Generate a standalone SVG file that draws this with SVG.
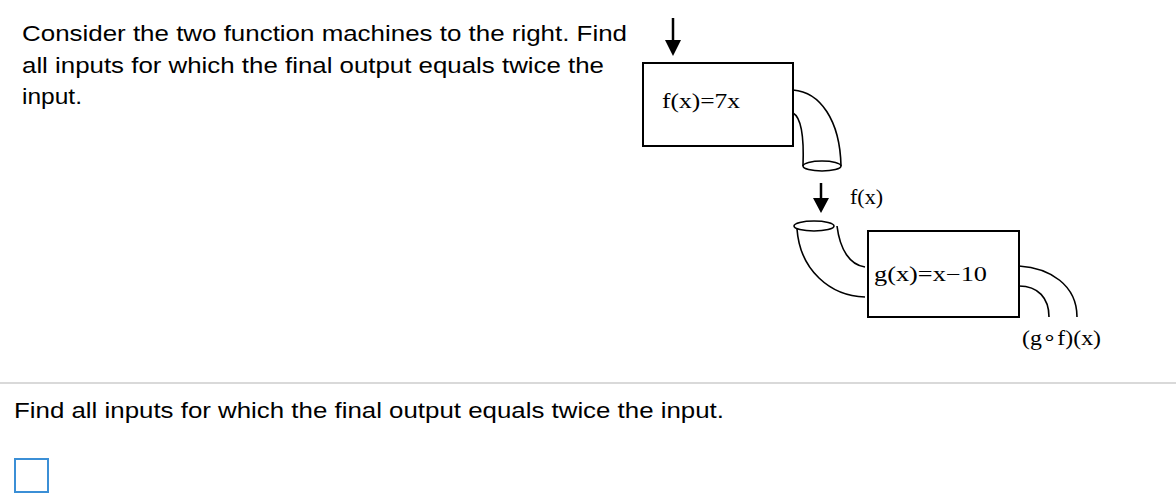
<svg xmlns="http://www.w3.org/2000/svg" width="1176" height="502" viewBox="0 0 1176 502">
<style>
.s{font-family:"Liberation Sans",Arial,sans-serif;font-size:22px;fill:#000}
.m{font-family:"Liberation Serif","Times New Roman",serif;font-size:20px;fill:#000}
.l{fill:none;stroke:#000;stroke-width:2}
.p{fill:none;stroke:#000;stroke-width:1.6}
</style>
<rect width="1176" height="502" fill="#fff"/>
<text class="s" x="22" y="41" textLength="605" lengthAdjust="spacingAndGlyphs">Consider the two function machines to the right. Find</text>
<text class="s" x="22" y="73" textLength="582" lengthAdjust="spacingAndGlyphs">all inputs for which the final output equals twice the</text>
<text class="s" x="22" y="104" textLength="60" lengthAdjust="spacingAndGlyphs">input.</text>
<g id="machine-f"><rect x="643" y="63" width="150" height="83" class="l"/><text class="m" x="662" y="108" textLength="78" lengthAdjust="spacingAndGlyphs">f(x)=7x</text></g>
<g id="machine-g"><rect x="868" y="231" width="151" height="86" class="l"/><text class="m" x="874" y="281" textLength="113" lengthAdjust="spacingAndGlyphs">g(x)=x−10</text></g>
<g id="label-fx"><text class="m" x="850" y="204" textLength="33" lengthAdjust="spacingAndGlyphs">f(x)</text></g>
<g id="label-gof"><text class="m" x="1022" y="345" textLength="79" lengthAdjust="spacingAndGlyphs">(g∘f)(x)</text></g>
<g id="connectors">
<line x1="673" y1="18" x2="673" y2="44" stroke="#000" stroke-width="2.5"/>
<polygon points="665,40 681,40 673,56" fill="#000"/>
<line x1="821" y1="183" x2="821" y2="202" stroke="#000" stroke-width="2.5"/>
<polygon points="813,198 829,198 821,213" fill="#000"/>
<path class="p" d="M793,90 C820,92 840,120 841,166"/>
<path class="p" d="M793,113 C802,118 804,140 803,166"/>
<ellipse cx="822" cy="166" rx="19" ry="5" class="p" fill="#fff"/>
<path class="p" d="M837,226 C840,250 850,265 865,267"/>
<path class="p" d="M797,229 C800,270 830,296 865,297"/>
<ellipse cx="814" cy="226" rx="20" ry="5" class="p" fill="#fff"/>
<path class="p" d="M1019,266 C1050,268 1077,285 1077,317"/>
<path class="p" d="M1019,286 C1038,286 1049,298 1049,317"/>
</g>
<line x1="0" y1="383" x2="1176" y2="383" stroke="#ccc" stroke-width="1.5"/>
<text class="s" x="14" y="418" textLength="710" lengthAdjust="spacingAndGlyphs">Find all inputs for which the final output equals twice the input.</text>
<rect x="15" y="459" width="33" height="33" fill="none" stroke="#3b8fd6" stroke-width="2"/>
</svg>
